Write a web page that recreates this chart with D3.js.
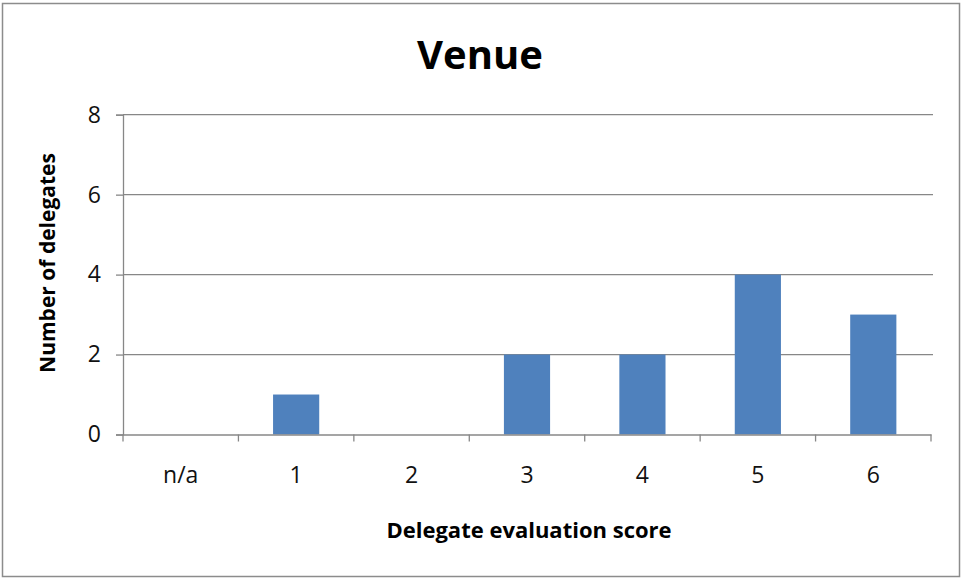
<!DOCTYPE html>
<html><head><meta charset="utf-8">
<script src="https://cdn.jsdelivr.net/npm/d3@7"></script>
<style>body{margin:0;background:#fff}</style>
</head><body>
<svg id="c" width="962" height="579"></svg>
<script>
const categories = ["n/a","1","2","3","4","5","6"];
const values = [0,1,0,2,2,4,3];
const yTicks = [0,2,4,6,8];
const title = "Venue";
const xTitle = "Delegate evaluation score";
const yTitle = "Number of delegates";

(function(){
const svg = d3.select("#c");
svg.append("rect").attr("x",2.5).attr("y",3.5).attr("width",957).attr("height",573)
  .attr("fill","#fff").attr("stroke","#8c8c8c").attr("stroke-width",1.5);

const pLeft=123, pRight=931, pTop=114.7, pBottom=434.5;
const x = d3.scaleBand().domain(categories).range([pLeft,pRight]).paddingInner(0.6).paddingOuter(0.3);
const y = d3.scaleLinear().domain([0,8]).range([pBottom,pTop]);
const font = "'Open Sans', sans-serif";

svg.append("g").selectAll("line").data(yTicks.filter(d=>d>0)).join("line")
  .attr("x1",pLeft).attr("x2",pRight+2).attr("y1",d=>y(d)).attr("y2",d=>y(d))
  .attr("stroke","#878787").attr("stroke-width",1.3);

svg.append("g").selectAll("rect").data(values).join("rect")
  .attr("x",(d,i)=>x(categories[i])).attr("width",x.bandwidth())
  .attr("y",d=>y(d)).attr("height",d=>pBottom-y(d)).attr("fill","#4F81BD");

const ya = svg.append("g").attr("transform",`translate(${pLeft},0)`)
  .call(d3.axisLeft(y).tickValues(yTicks).tickSize(7).tickPadding(15).tickFormat(d3.format("d")));
ya.select(".domain").attr("stroke","#878787").attr("stroke-width",1.3);
ya.selectAll(".tick line").attr("stroke","#878787").attr("stroke-width",1.3);
ya.selectAll("text").attr("font-family",font).attr("font-size",23).attr("fill","#111");

const xa = svg.append("g").attr("transform",`translate(0,${pBottom})`)
  .call(d3.axisBottom(x).tickSize(0).tickPadding(32));
xa.select(".domain").attr("stroke","#878787").attr("stroke-width",1.3);
xa.selectAll("text").attr("font-family",font).attr("font-size",23).attr("fill","#111");
const step = x.step();
const bounds = d3.range(categories.length+1).map(i=>pLeft+i*step);
svg.append("g").selectAll("line").data(bounds).join("line")
  .attr("x1",d=>d).attr("x2",d=>d).attr("y1",pBottom).attr("y2",pBottom+7)
  .attr("stroke","#878787").attr("stroke-width",1.3);

svg.append("text").attr("x",480).attr("y",69).attr("text-anchor","middle")
  .attr("font-family",font).attr("font-weight","bold").attr("font-size",40)
  .attr("fill","#000").text(title);
svg.append("text").attr("x",529).attr("y",538).attr("text-anchor","middle")
  .attr("font-family",font).attr("font-weight","bold").attr("font-size",22)
  .attr("fill","#000").text(xTitle);
svg.append("text").attr("transform","translate(55,263) rotate(-90)").attr("text-anchor","middle")
  .attr("font-family",font).attr("font-weight","bold").attr("font-size",21)
  .attr("fill","#000").text(yTitle);
})();
</script>
</body></html>
